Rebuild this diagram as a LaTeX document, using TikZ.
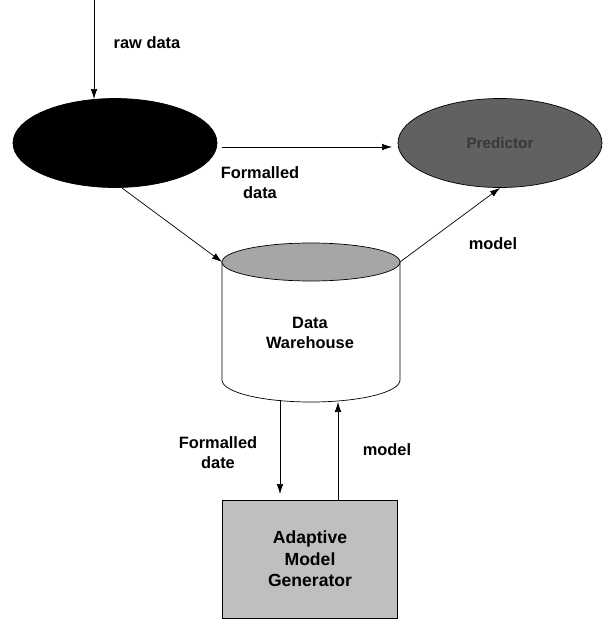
\documentclass[tikz,border=0pt]{standalone}
\usepackage{fontspec}
\setmainfont{Liberation Sans}
\usetikzlibrary{shapes,arrows.meta}
\usepackage{xcolor}

\begin{document}
\begin{tikzpicture}[x=0.03cm,y=-0.03cm,>={Latex[length=3mm,width=2mm]},line width=0.6pt,
  lbl/.style={font=\bfseries\fontsize{14}{17}\selectfont,inner sep=0.75pt,align=center},
  blob/.style={ellipse,draw,minimum width=6.12cm,minimum height=2.67cm}]
\useasboundingbox (0,0) rectangle (606,631);
% input and the two ellipses
\node [blob,fill=black] (prep) at (115,143) {};
\node [blob,fill=black!62] (pred) at (500,143) {\textcolor{black!78}{\bfseries\fontsize{13}{15}\selectfont Predictor}};
\coordinate (in) at (94,0);
\coordinate (in2) at (94,99);
\draw [->] (in) -- (in2);
\draw (147,43) node [lbl] {raw data};
\coordinate (a1) at (222,147);
\coordinate (a2) at (392,147);
\draw [->] (a1) -- (a2);
% data warehouse cylinder
\coordinate (dwl) at (222,262);
\coordinate (dwr) at (400,262);
\draw [fill=white] (222,262) -- (222,380) arc [start angle=180,end angle=360,x radius=89,y radius=-22] -- (400,262);
\draw [fill=black!35] (311,262) ellipse [x radius=89,y radius=19];
\node [lbl] (dw) at (310,333) {Data\\Warehouse};
\coordinate (dwb1) at (280,400);
\coordinate (dwb2) at (338,402);
\coordinate (gent1) at (280,494);
% model generator box
\node [draw,fill=black!25,minimum width=5.25cm,minimum height=3.54cm,lbl,font=\bfseries\fontsize{15}{18.5}\selectfont] (gen) at (310,559) {Adaptive\\Model\\Generator};
\coordinate (b1) at (122,188);
\draw [->] (b1) -- (dwl);
\draw [->] (dwr) -- (pred.south);
\draw [->] (dwb1) -- (gent1);
\draw [->] (gen.north -| dwb2) -- (dwb2);
% labels
\draw (260,183) node [lbl] {Formalled\\data};
\draw (493,244) node [lbl] {model};
\draw (218,453) node [lbl] {Formalled\\date};
\draw (387,450) node [lbl] {model};
\end{tikzpicture}
\end{document}
